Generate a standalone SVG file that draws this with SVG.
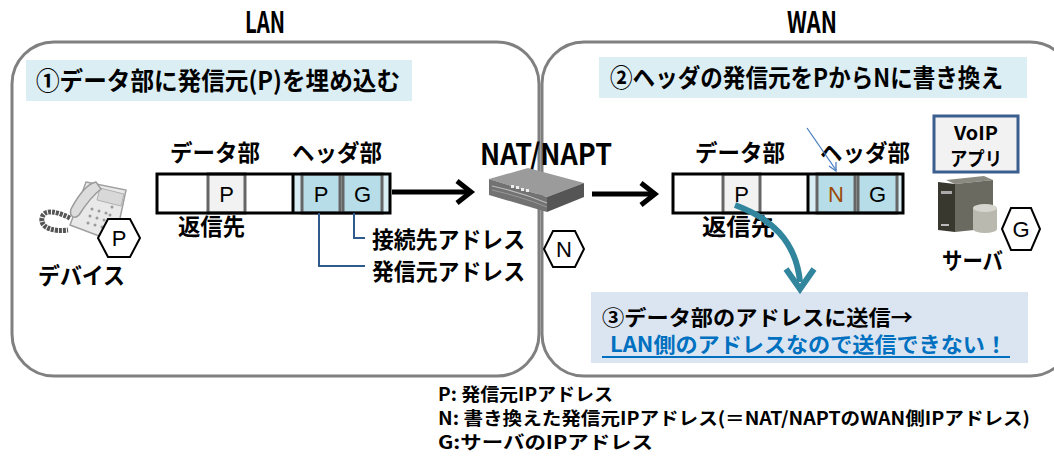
<svg xmlns="http://www.w3.org/2000/svg" width="1054" height="463" viewBox="0 0 1054 463">
  <style>
    .jp { font-family: "Noto Sans CJK JP", "DejaVu Sans", sans-serif; font-weight: bold; fill: #000; }
    .cell { font-family: "Liberation Sans", Arial, sans-serif; font-size: 22px; fill: #000; }
    .area { fill: #fff; stroke: #808080; stroke-width: 3; }
    .hex { fill: #fff; stroke: #000; stroke-width: 2; }
    .pkt { fill: none; stroke: #000; stroke-width: 3; }
    .dcell { fill: #f2f2f2; stroke: #666; stroke-width: 3; }
    .hcell { fill: #b7dee8; stroke: #666; stroke-width: 3; }
    .hbg { fill: #d8edf4; }
    .flow { fill: none; stroke: #000; stroke-width: 5; }
    .lead { fill: none; stroke: #2f5a8c; stroke-width: 2; }
  </style>

  <!-- network areas -->
  <g id="lan-area">
    <rect class="area" x="12" y="42" width="527" height="334" rx="42" ry="42"/>
    <text class="jp" x="265" y="33" font-size="30" text-anchor="middle" textLength="40" lengthAdjust="spacingAndGlyphs">LAN</text>
  </g>
  <g id="wan-area">
    <rect class="area" x="542" y="42" width="530" height="334" rx="42" ry="42"/>
    <text class="jp" x="812" y="33" font-size="30" text-anchor="middle" textLength="50" lengthAdjust="spacingAndGlyphs">WAN</text>
  </g>

  <!-- step captions -->
  <g id="step1">
    <rect x="26" y="60" width="386" height="41" fill="#dbeef4"/>
    <text class="jp" x="36" y="90" font-size="25" textLength="364" lengthAdjust="spacingAndGlyphs">①データ部に発信元(P)を埋め込む</text>
  </g>
  <g id="step2">
    <rect x="599" y="57" width="428" height="41" fill="#dbeef4"/>
    <text class="jp" x="610" y="87" font-size="25" textLength="393" lengthAdjust="spacingAndGlyphs">②ヘッダの発信元をPからNに書き換え</text>
  </g>
  <g id="step3">
    <rect x="591" y="292" width="437" height="71" fill="#dbe5f1"/>
    <text class="jp" x="602" y="325" font-size="21" textLength="311" lengthAdjust="spacingAndGlyphs">③データ部のアドレスに送信→</text>
    <text class="jp" x="610" y="352" font-size="21" style="fill:#0070c0" textLength="397" lengthAdjust="spacingAndGlyphs">LAN側のアドレスなので送信できない！</text>
    <line x1="602" y1="357" x2="1010" y2="357" stroke="#0070c0" stroke-width="2"/>
  </g>

  <!-- device (phone) -->
  <g id="device">
    <path d="M70 218 C58 212 44 208 42 218 C40 228 54 232 68 230" fill="none" stroke="#555" stroke-width="5" stroke-dasharray="3 1"/>
    <polygon points="86,182 126,190 115,242 70,225" fill="#e9e9e9" stroke="#a0a0a0" stroke-width="1.5"/>
    <polygon points="100,188 124,194 121,206 97,200" fill="#d8d8d8" stroke="#b0b0b0" stroke-width="1"/>
    <path d="M96 182 C86 184 78 196 71 209 C69 216 74 220 79 215 C86 204 92 196 101 189 Z" fill="#dcdcdc" stroke="#9a9a9a" stroke-width="1.5"/>
    <g fill="#9a9a9a">
      <circle cx="92" cy="209" r="1.5"/><circle cx="99" cy="211" r="1.5"/><circle cx="106" cy="213" r="1.5"/>
      <circle cx="90" cy="216" r="1.5"/><circle cx="97" cy="218" r="1.5"/><circle cx="104" cy="220" r="1.5"/>
      <circle cx="88" cy="223" r="1.5"/><circle cx="95" cy="225" r="1.5"/><circle cx="102" cy="227" r="1.5"/>
      <circle cx="112" cy="207" r="1.5"/><circle cx="110" cy="215" r="1.5"/>
    </g>
    <polygon class="hex" points="98,238 108,219 130,219 140,238 130,257 108,257"/>
    <text class="cell" x="119" y="246" text-anchor="middle">P</text>
    <text class="jp" x="38" y="284" font-size="23" textLength="87" lengthAdjust="spacingAndGlyphs">デバイス</text>
  </g>

  <!-- LAN-side packet -->
  <g id="lan-packet">
    <text class="jp" x="170" y="161" font-size="23" textLength="90" lengthAdjust="spacingAndGlyphs">データ部</text>
    <text class="jp" x="292" y="161" font-size="23" textLength="90" lengthAdjust="spacingAndGlyphs">ヘッダ部</text>
    <rect x="157" y="174" width="233" height="39" fill="#fff"/>
    <rect class="hbg" x="293" y="174" width="97" height="39"/>
    <rect class="dcell" x="208" y="174" width="37" height="39"/>
    <rect class="hcell" x="302" y="174" width="38" height="39"/>
    <rect class="hcell" x="343" y="174" width="39" height="39"/>
    <rect class="pkt" x="157" y="174" width="233" height="39"/>
    <line x1="293" y1="174" x2="293" y2="213" stroke="#000" stroke-width="3"/>
    <text class="cell" x="226.5" y="202" text-anchor="middle">P</text>
    <text class="cell" x="321" y="202" text-anchor="middle">P</text>
    <text class="cell" x="362.5" y="202" text-anchor="middle">G</text>
    <text class="jp" x="178" y="235" font-size="23" textLength="67" lengthAdjust="spacingAndGlyphs">返信先</text>
  </g>

  <!-- address labels -->
  <g id="lan-labels">
    <text class="jp" x="372" y="248" font-size="23" textLength="153" lengthAdjust="spacingAndGlyphs">接続先アドレス</text>
    <text class="jp" x="372" y="280" font-size="23" textLength="153" lengthAdjust="spacingAndGlyphs">発信元アドレス</text>
  </g>

  <!-- NAT/NAPT router -->
  <g id="nat">
    <text class="jp" x="546" y="165" font-size="29" text-anchor="middle" textLength="132" lengthAdjust="spacingAndGlyphs">NAT/NAPT</text>
    <polygon points="489,179 528,168 584,183 547,197" fill="#9b9b9b"/>
    <polygon points="489,179 547,197 547,212 489,195" fill="#727272"/>
    <polygon points="547,197 584,183 584,197 547,212" fill="#555"/>
    <path d="M492 186 C510 190 530 196 547 203" fill="none" stroke="#bbb" stroke-width="1.2"/>
    <path d="M492 190 C510 194 530 200 547 207" fill="none" stroke="#999" stroke-width="1"/>
    <g fill="#eee">
      <rect x="511" y="185" width="3" height="3"/><rect x="516" y="186" width="3" height="3"/>
      <rect x="521" y="188" width="3" height="3"/><rect x="526" y="189" width="3" height="3"/>
    </g>
    <polygon class="hex" points="544,249 553,231 575,231 584,249 575,267 553,267"/>
    <text class="cell" x="564" y="257" text-anchor="middle">N</text>
  </g>

  <!-- WAN-side packet -->
  <g id="wan-packet">
    <text class="jp" x="695" y="161" font-size="23" textLength="90" lengthAdjust="spacingAndGlyphs">データ部</text>
    <text class="jp" x="820" y="161" font-size="23" textLength="90" lengthAdjust="spacingAndGlyphs">ヘッダ部</text>
    <rect x="673" y="174" width="230" height="39" fill="#fff"/>
    <rect class="hbg" x="808" y="174" width="95" height="39"/>
    <rect class="dcell" x="723" y="174" width="37" height="39"/>
    <rect class="hcell" x="817" y="174" width="38" height="39"/>
    <rect class="hcell" x="858" y="174" width="39" height="39"/>
    <rect class="pkt" x="673" y="174" width="230" height="39"/>
    <line x1="808" y1="174" x2="808" y2="213" stroke="#000" stroke-width="3"/>
    <text class="cell" x="741.5" y="202" text-anchor="middle">P</text>
    <text class="cell" x="836" y="202" text-anchor="middle" style="fill:#9c4a06">N</text>
    <text class="cell" x="877.5" y="202" text-anchor="middle">G</text>
    <text class="jp" x="702" y="235" font-size="23" textLength="73" lengthAdjust="spacingAndGlyphs">返信先</text>
  </g>

  <!-- server -->
  <g id="server">
    <rect x="934" y="116" width="84" height="56" fill="#f2f2f2" stroke="#3a5f8f" stroke-width="3"/>
    <text class="jp" x="976" y="140" font-size="19" text-anchor="middle" textLength="44" lengthAdjust="spacingAndGlyphs">VoIP</text>
    <text class="jp" x="976" y="166" font-size="19" text-anchor="middle" textLength="52" lengthAdjust="spacingAndGlyphs">アプリ</text>
    <polygon points="946,180 984,176 993,180 955,184" fill="#8a8a80"/>
    <polygon points="955,184 993,180 993,228 955,232" fill="#6a6a60"/>
    <polygon points="938,182 955,184 955,232 938,230" fill="#38382f"/>
    <rect x="941" y="191" width="11" height="3" fill="#aaa"/>
    <rect x="941" y="224" width="8" height="2" fill="#bbb"/>
    <path d="M973 208 L973 229 A12 4 0 0 0 997 229 L997 208 Z" fill="#b9b9b0"/>
    <ellipse cx="985" cy="208" rx="12" ry="4" fill="#d6d6ce"/>
    <polygon class="hex" points="1002,229 1011,208 1031,208 1040,229 1031,250 1011,250"/>
    <text class="cell" x="1021" y="237" text-anchor="middle">G</text>
    <text class="jp" x="942" y="269" font-size="23" textLength="61" lengthAdjust="spacingAndGlyphs">サーバ</text>
  </g>

  <!-- connectors -->
  <g id="connectors">
    <line class="flow" x1="392" y1="192" x2="470" y2="192"/>
    <polyline class="flow" points="457,181 471,192 457,203"/>
    <line class="flow" x1="592" y1="194" x2="654" y2="194"/>
    <polyline class="flow" points="641,183 655,194 641,205"/>
    <polyline class="lead" points="319,213 319,266 365,266"/>
    <polyline class="lead" points="354,213 354,238 365,238"/>
    <line x1="807" y1="128" x2="836" y2="170" stroke="#4a7fc1" stroke-width="1.3"/>
    <polyline points="829,166 836,171 836,162" fill="none" stroke="#4a7fc1" stroke-width="1.3"/>
    <path d="M735 205 C770 218 796 240 800 282" fill="none" stroke="#31859c" stroke-width="6"/>
    <polyline points="786,269 800,289 814,269" fill="none" stroke="#31859c" stroke-width="6"/>
  </g>

  <!-- legend -->
  <g id="legend">
    <text class="jp" x="438" y="401" font-size="18" textLength="175" lengthAdjust="spacingAndGlyphs">P: 発信元IPアドレス</text>
    <text class="jp" x="438" y="425" font-size="18" textLength="592" lengthAdjust="spacingAndGlyphs">N: 書き換えた発信元IPアドレス(＝NAT/NAPTのWAN側IPアドレス)</text>
    <text class="jp" x="438" y="449" font-size="18" textLength="215" lengthAdjust="spacingAndGlyphs">G:サーバのIPアドレス</text>
  </g>
</svg>
